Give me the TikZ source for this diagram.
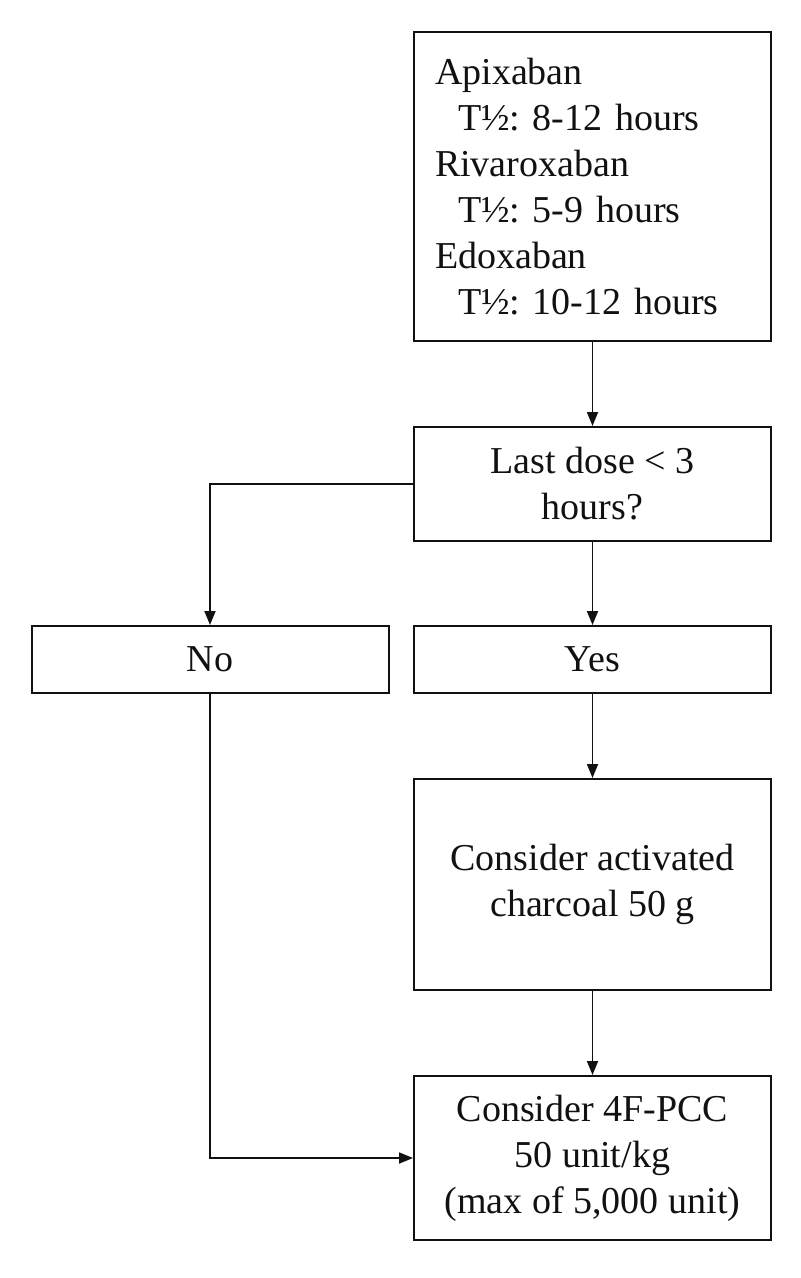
\documentclass[tikz,border=0pt]{standalone}
\usepackage{fontspec}
\setmainfont{Liberation Serif}
\usetikzlibrary{arrows.meta,positioning}
\definecolor{Ink}{HTML}{111111}
\frenchspacing
\tikzset{
  flowbox/.style={draw=Ink,line width=1pt,fill=white,minimum width=178.5pt,align=center,text=Ink,inner sep=0pt,font=\fontsize{19pt}{23pt}\selectfont},
  flowline/.style={-{Triangle[length=7pt,width=5.5pt]},draw=Ink,line width=0.9pt}
}

\begin{document}
\begin{tikzpicture}[x=0.5pt,y=-0.5pt]
  \useasboundingbox (0,0) rectangle (800,1278);
  \node[flowbox,minimum height=154.5pt,align=left,text width=157.5pt,inner xsep=10.5pt] (drugs) at (592.5,186.5)
    {Apixaban\\\hspace*{11.5pt}T½: 8-12 hours\\Rivaroxaban\\\hspace*{11.5pt}T½: 5-9 hours\\Edoxaban\\\hspace*{11.5pt}T½: 10-12 hours};
  \node[flowbox,minimum height=57pt] (dose) at (592.5,484) {Last dose < 3\\hours?};
  \node[flowbox,minimum height=33.5pt] (no) at (210,659.5) {No};
  \node[flowbox,minimum height=33.5pt] (yes) at (592.5,659.5) {Yes};
  \node[flowbox,minimum height=105.5pt] (charcoal) at (592.5,884.5) {Consider activated\\charcoal 50 g};
  \node[flowbox,minimum height=82pt] (pcc) at (592.5,1158) {Consider 4F-PCC\\50 unit/kg\\(max of 5,000 unit)};

  \draw[flowline] (drugs) -- (dose);
  \draw[flowline] (dose.west) -| (no.north);
  \draw[flowline] (dose) -- (yes);
  \draw[flowline] (yes) -- (charcoal);
  \draw[flowline] (charcoal) -- (pcc);
  \draw[flowline] (no.south) |- (pcc.west);
\end{tikzpicture}
\end{document}
